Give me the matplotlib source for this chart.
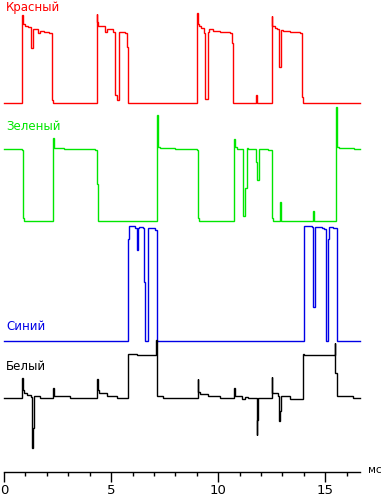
import matplotlib
matplotlib.use("Agg")
import matplotlib.pyplot as plt
import numpy as np

# ---- data (time in ms, signal in arbitrary units above each trace's zero level) ----
red_t = [0, 0.855, 0.87, 0.97, 1.10, 1.26, 1.37, 1.57, 1.68, 1.85, 2.10, 2.26, 2.30,
         4.33, 4.35, 4.40, 4.72, 4.80, 5.10, 5.18, 5.26, 5.37, 5.65, 5.73, 5.77,
         9.03, 9.05, 9.10, 9.18, 9.35, 9.40, 9.54, 9.59, 9.74, 10.08, 10.55, 10.66, 10.71,
         11.77, 11.80, 11.83,
         12.50, 12.52, 12.65, 12.76, 12.85, 12.92, 13.04, 13.35, 13.82, 13.93, 13.97, 16.62]
red_v = [0, 88, 79, 77, 76, 55, 74, 70, 72, 71, 70, 3, 0,
         89, 81, 77, 71, 74, 71, 8, 3, 71, 70, 56, 0,
         90, 79, 77, 75, 70, 4, 71, 74, 72, 71, 70, 60, 0,
         8, 3, 0,
         87, 77, 75, 74, 36, 73, 72, 71, 70, 6, 0, 0]

green_t = [0, 0.83, 0.90, 0.95,
           2.30, 2.32, 2.35, 2.82, 4.25, 4.36, 4.41,
           7.13, 7.16, 7.18, 7.28, 7.98, 9.00, 9.07, 9.12,
           10.75, 10.78, 10.86, 11.17, 11.27, 11.33, 11.41, 11.76, 11.83, 11.89,
           12.34, 12.53, 12.57, 12.89, 12.92, 12.95, 14.44, 14.47,
           15.50, 15.53, 15.65, 16.35, 16.62]
green_v = [72, 71, 3, 0,
           83, 79, 73, 72, 71, 37, 0,
           53, 106, 74, 73, 72, 71, 3, 0,
           82, 74, 72, 5, 33, 73, 72, 59, 41, 72,
           71, 3, 0, 19, 14, 0, 10, 0,
           114, 74, 73, 72, 72]

blue_t = [0, 5.80, 5.84, 6.12, 6.19, 6.27, 6.32, 6.50, 6.55, 6.59, 6.74, 7.05, 7.13,
          14.02, 14.36, 14.44, 14.50, 14.83, 14.94, 15.03, 15.14, 15.19, 15.37, 15.53, 16.62]
blue_v = [0, 102, 115, 113, 91, 113, 114, 113, 59, 0, 113, 111, 0,
          115, 114, 34, 114, 113, 112, 0, 102, 114, 113, 0, 0]

white_t = [0, 0.85, 0.87, 0.93, 1.06, 1.26, 1.32, 1.36, 1.40, 1.68,
           2.30, 2.33, 3.08,
           4.36, 4.38, 4.44, 4.79, 5.26,
           5.77, 5.80, 6.19, 7.10, 7.13, 7.16, 7.44,
           9.04, 9.07, 9.15, 9.54, 10.08, 10.74, 10.77, 11.10, 11.25, 11.41,
           11.79, 11.83, 11.87,
           12.49, 12.52, 12.81, 12.85, 12.89, 12.92, 13.35,
           13.97, 14.00, 15.45, 15.47, 15.53, 16.31, 16.62]
white_v = [0, 20, 8, 5, 3, 1, -50, -30, 2, 0,
           10, 2, 0,
           19, 8, 5, 2, 0,
           10, 44, 43, 58, 15, 2, 0,
           19, 6, 4, 2, 0, 10, 2, -1, 1, 0,
           -37, -22, 0,
           21, 5, 2, -23, -13, 2, -1,
           44, 43, 55, 25, 2, 0, 0]

names = ["Красный", "Зеленый", "Синий", "Белый"]
xticks = [0, 5, 10, 15]
unit_label = "мс"

# ---- layout ----
W, H = 383, 497
px_per_ms = 21.42
x0_px = 4
bases = [103.3, 221.0, 341.0, 398.3]
label_y = [7, 127, 327, 366]
colors = ["#ff0000", "#00e600", "#0000e6", "#000000"]

fig = plt.figure(figsize=(W / 100, H / 100), dpi=100)
ax = fig.add_axes([0, 0, 1, 1])
ax.set_xlim(-x0_px / px_per_ms, (W - x0_px) / px_per_ms)
ax.set_ylim(H, 0)

series = [(red_t, red_v), (green_t, green_v), (blue_t, blue_v), (white_t, white_v)]
for (t, v), base, c, name, ly in zip(series, bases, colors, names, label_y):
    y = base - np.asarray(v, dtype=float)
    ax.plot(t, y, drawstyle="steps-post", color=c, lw=1.0, solid_joinstyle="miter")
    ax.text(0.1, ly, name, color=c, fontsize=8.5, family="DejaVu Sans",
            ha="left", va="center")

for s in ["top", "left", "right"]:
    ax.spines[s].set_visible(False)
ax.spines["bottom"].set_position(("data", 472))
ax.spines["bottom"].set_bounds(0, 16.62)
ax.spines["bottom"].set_linewidth(1.0)
ax.set_yticks([])
ax.set_xticks(xticks)
ax.set_xticks(np.arange(1, 17), minor=True)
ax.tick_params(axis="x", which="major", direction="out", length=7.2, width=1.0,
               labelsize=9.5, pad=1.5)
ax.tick_params(axis="x", which="minor", direction="out", length=3.0, width=1.0)
ax.text(17.0, 470, unit_label, fontsize=7.5, ha="left", va="center")

fig.savefig("out.png", dpi=100)
